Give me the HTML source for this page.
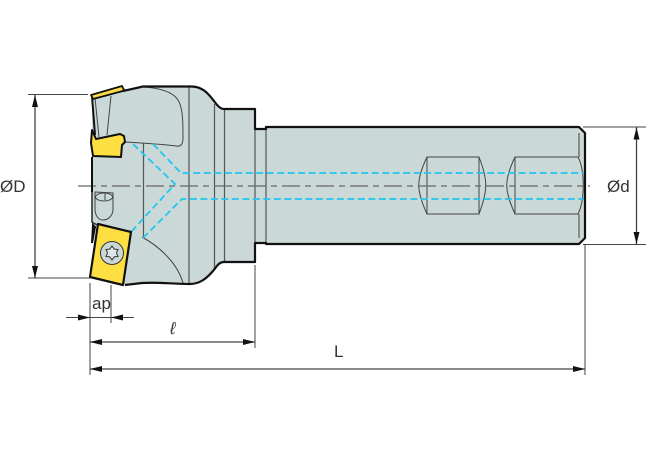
<!DOCTYPE html>
<html>
<head>
<meta charset="utf-8">
<style>
html,body{margin:0;padding:0;background:#fff;width:670px;height:460px;overflow:hidden}
svg{display:block}
text{font-family:"Liberation Sans",sans-serif;fill:#333}
</style>
</head>
<body>
<svg width="670" height="460" viewBox="0 0 670 460" xmlns="http://www.w3.org/2000/svg">

<!-- body -->
<path d="M92 96L123 91L143 86.500H192C204 87 209 95 214 101C217 105 220 109 224 109H255V129H266V127H579L585 133V238L579 244H266V243H255V262H224C219 262 217 266 213 271C207 278 200 284 190 284C172 284 160 282 142 283L125 285L97 224L92 222V157L92 96Z" fill="#cbd8d8"/>

<!-- thin interior lines -->
<g stroke="#555" stroke-width="1.200" fill="none">
<path d="M143.500 143V237M189 87V284M214.500 104V270M224.500 109V262M255 129V243M266 129V243"/>
</g>
<g stroke="#444" stroke-width="1" fill="none">
<path d="M125 142C142 143 160 144 176 146C181 147 183 144 183 138C183 122 183 108 178 100C173 92 160 88 143 87"/>
<path d="M111 96L107 135M95 98L99 137"/>
<path d="M142 237C162 248 178 265 183 283"/>
<!-- small cylinder -->
<path d="M95 192L113 193V209C113 216 108 220 103 220C98 220 95 215 95 209Z"/>
<ellipse cx="104" cy="197" rx="8.500" ry="4"/>
<path d="M105 193V200"/>
<!-- flats -->
<path d="M427 157H479V214H427ZM427 157C416 180 416 190 427 214M479 157C488 180 488 190 479 214"/>
<path d="M515 157H578C585 170 585 200 578 214H515ZM515 157C504 180 504 190 515 214"/>
<path d="M515 157V214M579 133V157M579 214V238"/>
</g>

<!-- coolant passages -->
<g stroke="#22c6ee" stroke-width="1.800" fill="none" stroke-dasharray="7 3.500">
<path d="M153 144L181 173H585"/>
<path d="M133 144L175 184L131 232"/>
<path d="M143 238L182 199H585"/>
</g>

<!-- center line -->
<path d="M78 186H590" stroke="#666" stroke-width="1.300" fill="none" stroke-dasharray="18 5 6 5"/>

<!-- outline -->
<path d="M123 91L143 86.500H192C204 87 209 95 214 101C217 105 220 109 224 109H255V129H266V127H579L585 133V238L579 244H266V243H255V262H224C219 262 217 266 213 271C207 278 200 284 190 284C172 284 160 282 142 283L125 285" fill="none" stroke="#111" stroke-width="2.200" stroke-linejoin="round"/>
<path d="M92 96L95 135M92 157V192" fill="none" stroke="#111" stroke-width="2"/>
<path d="M92 192V222L97 225" fill="none" stroke="#333" stroke-width="1.600"/>

<!-- top insert strip -->
<path d="M91 95L122 86L124 90L123 91L93 99Z" fill="#f9dc46" stroke="#111" stroke-width="1.800" stroke-linejoin="round"/>
<!-- upper insert -->
<path d="M92 130L96 139L120 134L124 136L125 142L122 145L121 157L93 156L91 143Z" fill="#fedf42" stroke="#111" stroke-width="2" stroke-linejoin="round"/>

<!-- lower insert -->
<path d="M93 225L92 243L95 227Z" fill="#111" stroke="#111" stroke-width="2"/>
<path d="M98 224L131 232L123 285L90 277Z" fill="#fedf42" stroke="#111" stroke-width="2.200" stroke-linejoin="round"/>
<circle cx="112" cy="253" r="11.500" fill="#cbd8d8" stroke="#333" stroke-width="1"/>
<path d="M112 246L114.250 249.100L118 249.500L116.500 253L118 256.500L114.250 256.900L112 260L109.750 256.900L106 256.500L107.500 253L106 249.500L109.750 249.100Z" fill="#dde6e6" stroke="#333" stroke-width="1"/>

<!-- dimension/extension lines -->
<g stroke="#444" stroke-width="1" fill="none">
<path d="M28 94.500H88M28 278H90M583 127H646M583 244.500H646"/>
<path d="M90 283V375M111 285V323M255 265V348M585 245V375"/>
<path d="M66 317.500H134"/>
</g>
<g stroke="#444" stroke-width="1.300" fill="none">
<path d="M35 95V278"/>
<path d="M636.500 127.500V244"/>
<path d="M90 342H255"/>
<path d="M90 369H585"/>
</g>
<g fill="#111">
<path d="M35 95L32 107H38ZM35 278L32 266H38Z"/>
<path d="M636.500 127.500L633.500 139.500H639.500ZM636.500 244L633.500 232H639.500Z"/>
<path d="M90 342L102 339V345ZM255 342L243 339V345Z"/>
<path d="M90 369L102 366V372ZM585 369L573 366V372Z"/>
<path d="M78 314.500L90 317.500L78 320.500ZM123 314.500L111 317.500L123 320.500Z"/>
</g>

<!-- labels -->
<text x="0" y="192" font-size="17">ØD</text>
<text x="607" y="192" font-size="17">Ød</text>
<text x="92" y="309" font-size="17">ap</text>
<text x="170" y="334" font-size="17" font-style="italic">ℓ</text>
<text x="334" y="357" font-size="17">L</text>
</svg>
</body>
</html>
